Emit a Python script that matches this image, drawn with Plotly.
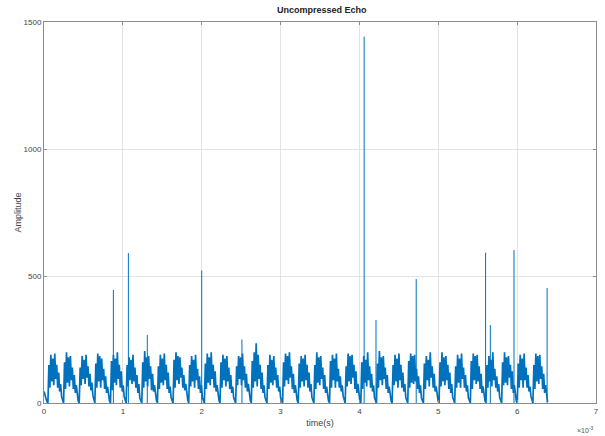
import plotly.graph_objects as go

# ---- data ----
sample_interval = 12.4e-6  # seconds per sample

lead_in = [45, 30, 15, 5]

bursts = [
    [0, 150, 60, 190, 85, 175, 70, 195, 95, 150, 60, 120, 45, 75, 25, 10],
    [0, 160, 55, 200, 80, 180, 65, 185, 90, 140, 55, 110, 40, 70, 20, 8],
    [0, 140, 70, 185, 95, 170, 75, 190, 100, 145, 65, 115, 50, 80, 30, 12],
    [0, 155, 60, 195, 85, 185, 60, 175, 90, 135, 55, 105, 40, 65, 22, 8],
    [0, 165, 50, 190, 80, 175, 70, 200, 95, 150, 60, 125, 45, 70, 25, 10],
    [0, 150, 65, 180, 90, 170, 75, 190, 85, 140, 60, 110, 40, 75, 20, 9],
    [0, 160, 60, 205, 85, 180, 65, 185, 95, 145, 50, 115, 45, 70, 28, 10],
    [0, 145, 55, 190, 80, 175, 70, 195, 90, 150, 55, 120, 40, 65, 20, 8],
    [0, 170, 60, 200, 90, 185, 75, 180, 100, 140, 60, 110, 50, 75, 25, 12],
    [0, 150, 65, 185, 85, 170, 60, 190, 90, 135, 55, 105, 40, 70, 22, 8],
    [0, 155, 55, 195, 80, 180, 70, 200, 95, 150, 60, 125, 45, 70, 26, 10],
    [0, 160, 60, 190, 90, 175, 65, 185, 85, 140, 55, 110, 40, 65, 20, 9],
    [0, 145, 70, 185, 95, 180, 70, 195, 90, 145, 60, 115, 45, 75, 24, 10],
    [0, 165, 60, 200, 85, 235, 65, 190, 95, 150, 55, 120, 40, 70, 22, 8],
    [0, 150, 55, 190, 80, 170, 70, 185, 90, 140, 60, 110, 45, 65, 20, 10],
    [0, 160, 65, 195, 90, 185, 75, 200, 100, 145, 55, 115, 40, 70, 25, 9],
    [0, 155, 60, 185, 85, 175, 65, 190, 90, 150, 60, 120, 45, 75, 22, 10],
    [0, 150, 55, 200, 80, 180, 70, 185, 95, 140, 55, 110, 40, 65, 20, 8],
    [0, 165, 60, 190, 90, 175, 60, 195, 85, 135, 60, 105, 45, 70, 26, 10],
    [0, 145, 65, 195, 85, 185, 75, 190, 100, 150, 55, 125, 40, 75, 22, 9],
    [0, 160, 55, 185, 80, 170, 65, 200, 90, 145, 60, 115, 45, 70, 20, 10],
    [0, 155, 60, 205, 90, 180, 70, 185, 95, 140, 55, 110, 40, 65, 25, 8],
    [0, 150, 70, 190, 85, 175, 60, 195, 90, 150, 60, 120, 45, 75, 22, 10],
    [0, 165, 60, 195, 80, 185, 75, 190, 85, 135, 55, 105, 40, 70, 20, 9],
    [0, 155, 55, 185, 90, 170, 65, 200, 100, 145, 60, 115, 45, 65, 26, 10],
    [0, 160, 65, 200, 85, 180, 70, 185, 90, 150, 55, 120, 40, 75, 22, 8],
    [0, 145, 60, 190, 80, 175, 60, 195, 95, 140, 60, 110, 45, 70, 20, 10],
    [0, 165, 55, 195, 90, 185, 75, 190, 85, 145, 55, 115, 40, 65, 25, 9],
    [0, 150, 60, 185, 85, 170, 65, 200, 90, 135, 60, 105, 45, 75, 22, 10],
    [0, 160, 70, 200, 80, 180, 70, 185, 100, 150, 55, 125, 40, 70, 20, 8],
    [0, 155, 60, 190, 90, 175, 60, 195, 90, 140, 60, 110, 45, 65, 26, 10],
    [0, 150, 55, 195, 85, 185, 75, 190, 95, 145, 55, 115, 40, 70, 22, 5],
]

spike_times = [0.88e-3, 1.07e-3, 1.31e-3, 2.00e-3, 2.51e-3, 4.06e-3,
               4.21e-3, 4.72e-3, 5.60e-3, 5.66e-3, 5.96e-3, 6.38e-3]
spike_heights = [445, 590, 268, 522, 250, 1442, 327, 488, 592, 307, 602, 453]

x_tick_values = [0, 1e-3, 2e-3, 3e-3, 4e-3, 5e-3, 6e-3, 7e-3]
x_tick_labels = ["0", "1", "2", "3", "4", "5", "6", "7"]
y_tick_values = [0, 500, 1000, 1500]

# ---- build series ----
amplitude = list(lead_in)
for b in bursts:
    amplitude.extend(b)
time = [i * sample_interval for i in range(len(amplitude))]

spike_x, spike_y = [], []
for t, h in zip(spike_times, spike_heights):
    spike_x += [t, t, None]
    spike_y += [0, h, None]

line_color = "#0072BD"
font_family = "Liberation Sans, Arial, sans-serif"

fig = go.Figure()
fig.add_trace(go.Scatter(x=time, y=amplitude, mode="lines",
                         line=dict(color=line_color, width=1.7),
                         hoverinfo="skip"))
fig.add_trace(go.Scatter(x=spike_x, y=spike_y, mode="lines",
                         line=dict(color=line_color, width=1),
                         hoverinfo="skip"))

axis_common = dict(
    showline=True, linecolor="#8c8c8c", linewidth=1, mirror="ticks",
    ticks="inside", ticklen=3, tickcolor="#8c8c8c",
    showgrid=True, gridcolor="#e3e3e3", gridwidth=1,
    zeroline=False,
    tickfont=dict(family=font_family, size=8, color="#444"),
)

fig.update_layout(
    width=605, height=436,
    margin=dict(l=44, r=6, t=22, b=33),
    paper_bgcolor="white", plot_bgcolor="white",
    showlegend=False,
    title=dict(text="<b>Uncompressed Echo</b>", x=0.532, xanchor="center",
               y=0.977, yanchor="middle",
               font=dict(family=font_family, size=9, color="#222")),
    xaxis=dict(range=[0, 7e-3], tickvals=x_tick_values, ticktext=x_tick_labels,
               title=dict(text="time(s)", standoff=5,
                          font=dict(family=font_family, size=9, color="#444")),
               **axis_common),
    yaxis=dict(range=[0, 1500], tickvals=y_tick_values,
               title=dict(text="Amplitude", standoff=0,
                          font=dict(family=font_family, size=9, color="#444")),
               **axis_common),
)

fig.add_annotation(text="×10<sup>-3</sup>", xref="paper", yref="paper",
                   x=1.0, y=-0.055, xanchor="right", yanchor="top", showarrow=False,
                   font=dict(family=font_family, size=7, color="#555"))

fig.write_html("out.html")
